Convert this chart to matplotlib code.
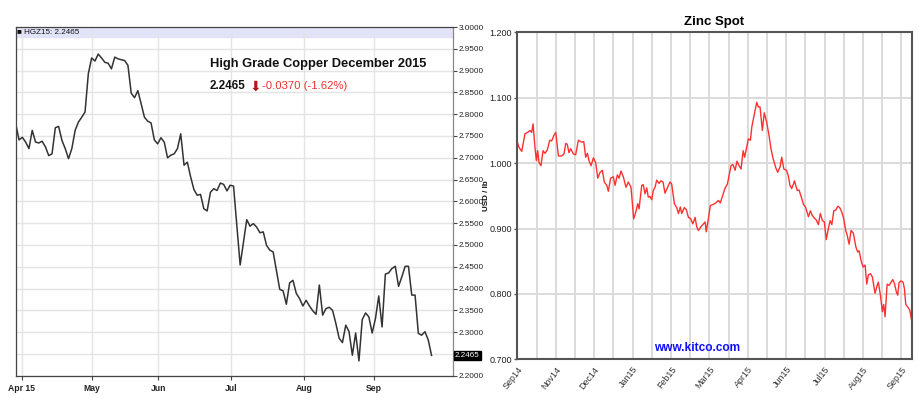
import matplotlib
matplotlib.use("Agg")
import matplotlib.pyplot as plt

SANS = ["Liberation Sans", "DejaVu Sans"]

# High Grade Copper Dec 2015 (trading day index, price)
copper_day = [0, 1, 2, 3, 4, 5, 6, 7, 8, 9, 10, 11, 12, 13, 14, 15, 16, 17, 18, 19,
              20, 21, 22, 23, 24, 25, 26, 27, 28, 29, 30, 31, 33, 34, 35, 36, 37, 38, 39, 40,
              41, 42, 43, 44, 45, 46, 47, 48, 49, 50, 51, 52, 53, 54, 55, 56, 57, 58, 59, 60,
              61, 62, 63, 64, 65, 66, 68, 70, 71, 72, 73, 74, 75, 76, 77, 78, 80, 81, 82, 83,
              84, 85, 86, 87, 88, 89, 90, 91, 92, 93, 94, 95, 96, 97, 98, 99, 100, 101, 102, 103,
              104, 105, 106, 107, 108, 109, 110, 111, 112, 113, 114, 115, 116, 117, 118, 119, 120, 121, 122, 123,
              124, 125, 126]
copper_price = [2.778, 2.741, 2.747, 2.736, 2.721, 2.763, 2.736, 2.734, 2.738, 2.725,
                2.705, 2.709, 2.769, 2.772, 2.740, 2.721, 2.698, 2.721, 2.763, 2.782,
                2.793, 2.805, 2.893, 2.929, 2.922, 2.938, 2.929, 2.919, 2.917, 2.904,
                2.931, 2.927, 2.923, 2.912, 2.848, 2.838, 2.854, 2.824, 2.793, 2.784,
                2.780, 2.741, 2.732, 2.746, 2.736, 2.700, 2.706, 2.709, 2.721, 2.755,
                2.683, 2.690, 2.656, 2.627, 2.614, 2.616, 2.583, 2.578, 2.621, 2.629,
                2.625, 2.642, 2.639, 2.624, 2.637, 2.635, 2.454, 2.558, 2.543, 2.549,
                2.541, 2.528, 2.530, 2.499, 2.488, 2.484, 2.398, 2.395, 2.364, 2.413,
                2.419, 2.389, 2.377, 2.360, 2.373, 2.360, 2.349, 2.341, 2.408, 2.339,
                2.354, 2.357, 2.350, 2.320, 2.286, 2.276, 2.316, 2.301, 2.247, 2.298,
                2.234, 2.329, 2.344, 2.335, 2.298, 2.331, 2.383, 2.312, 2.433, 2.436,
                2.446, 2.451, 2.405, 2.427, 2.451, 2.451, 2.385, 2.385, 2.297, 2.293,
                2.301, 2.282, 2.2465]
copper_tick_pos = [1.8, 23.0, 43.2, 65.2, 87.5, 108.5]
copper_tick_lab = ["Apr 15", "May", "Jun", "Jul", "Aug", "Sep"]
copper_yticks = [2.20, 2.25, 2.30, 2.35, 2.40, 2.45, 2.50, 2.55, 2.60, 2.65,
                 2.70, 2.75, 2.80, 2.85, 2.90, 2.95, 3.00]

# Zinc Spot (period index, USD/lb)
zinc_t = [0.00, 0.09, 0.23, 0.40, 0.54, 0.66, 0.75, 0.82, 0.92, 0.99, 1.06, 1.13, 1.23, 1.34, 1.44,
          1.56, 1.69, 1.79, 1.90, 2.00, 2.14, 2.31, 2.43, 2.52, 2.60, 2.69, 2.78, 2.92, 3.04, 3.18,
          3.35, 3.46, 3.56, 3.65, 3.73, 3.84, 3.96, 4.08, 4.19, 4.31, 4.43, 4.53, 4.66, 4.74, 4.86,
          5.00, 5.09, 5.21, 5.30, 5.40, 5.52, 5.66, 5.78, 5.92, 6.06, 6.17, 6.27, 6.34, 6.48, 6.56,
          6.65, 6.74, 6.82, 6.91, 7.00, 7.08, 7.17, 7.26, 7.38, 7.48, 7.59, 7.69, 7.83, 7.95, 8.04,
          8.18, 8.30, 8.39, 8.49, 8.56, 8.70, 8.80, 8.91, 9.03, 9.14, 9.26, 9.34, 9.43, 9.57, 9.69,
          9.78, 9.84, 9.95, 10.05, 10.21, 10.33, 10.47, 10.57, 10.68, 10.82, 10.94, 11.03, 11.13, 11.23, 11.34,
          11.44, 11.55, 11.65, 11.76, 11.84, 11.93, 12.03, 12.14, 12.21, 12.29, 12.38, 12.47, 12.55, 12.64, 12.76,
          12.86, 12.99, 13.11, 13.21, 13.33, 13.46, 13.56, 13.68, 13.77, 13.88, 14.02, 14.11, 14.20, 14.29, 14.38,
          14.43, 14.50, 14.58, 14.67, 14.78, 14.90, 15.02, 15.16, 15.26, 15.36, 15.47, 15.57, 15.68, 15.78, 15.89,
          15.99, 16.09, 16.20, 16.29, 16.38, 16.48, 16.58, 16.69, 16.79, 16.90, 17.00, 17.10, 17.17, 17.28, 17.38,
          17.50, 17.63, 17.73, 17.80, 17.90, 18.01, 18.11, 18.20, 18.28, 18.39, 18.49, 18.63, 18.73, 18.80, 18.91,
          19.01, 19.08, 19.15, 19.26, 19.36, 19.47, 19.55, 19.64, 19.74, 19.81, 19.88, 19.98, 20.09, 20.16, 20.23,
          20.33, 20.44, 20.54]
zinc_price = [1.032, 1.024, 1.018, 1.045, 1.047, 1.050, 1.047, 1.060, 1.024, 1.004, 1.019, 1.001, 0.996, 1.019, 1.015,
              1.020, 1.035, 1.034, 1.042, 1.047, 1.011, 1.011, 1.014, 1.030, 1.029, 1.016, 1.022, 1.014, 1.013, 1.035,
              1.032, 1.033, 1.009, 1.015, 1.004, 0.996, 1.008, 1.001, 0.977, 0.986, 0.989, 0.971, 0.966, 0.957, 0.977,
              0.979, 0.966, 0.982, 0.977, 0.988, 0.979, 0.963, 0.971, 0.963, 0.915, 0.925, 0.938, 0.930, 0.966, 0.967,
              0.953, 0.962, 0.948, 0.949, 0.944, 0.958, 0.963, 0.974, 0.969, 0.973, 0.971, 0.954, 0.963, 0.971, 0.968,
              0.938, 0.932, 0.923, 0.933, 0.923, 0.932, 0.929, 0.917, 0.915, 0.907, 0.917, 0.903, 0.897, 0.903, 0.907,
              0.910, 0.895, 0.915, 0.935, 0.937, 0.939, 0.943, 0.939, 0.949, 0.962, 0.968, 0.981, 0.996, 0.998, 0.989,
              1.003, 0.996, 0.991, 1.019, 1.009, 1.022, 1.037, 1.035, 1.055, 1.067, 1.080, 1.093, 1.086, 1.086, 1.050,
              1.077, 1.062, 1.042, 1.022, 1.006, 0.993, 0.986, 0.994, 1.009, 0.991, 0.989, 0.981, 0.966, 0.961, 0.968,
              0.973, 0.966, 0.958, 0.959, 0.949, 0.937, 0.932, 0.918, 0.927, 0.920, 0.916, 0.913, 0.906, 0.923, 0.912,
              0.910, 0.883, 0.900, 0.912, 0.906, 0.927, 0.928, 0.934, 0.932, 0.925, 0.915, 0.897, 0.891, 0.876, 0.897,
              0.893, 0.872, 0.864, 0.866, 0.851, 0.841, 0.844, 0.815, 0.829, 0.831, 0.826, 0.801, 0.812, 0.818, 0.798,
              0.773, 0.784, 0.765, 0.815, 0.813, 0.818, 0.822, 0.816, 0.803, 0.798, 0.817, 0.820, 0.818, 0.808, 0.784,
              0.780, 0.775, 0.759]
zinc_tick_lab = ["Sep14", "Nov14", "Dec14", "Jan15", "Feb15", "Mar15",
                 "Apr15", "Jun15", "Jul15", "Aug15", "Sep15"]
zinc_yticks = [0.7, 0.8, 0.9, 1.0, 1.1, 1.2]

fig = plt.figure(figsize=(9.2, 3.98), dpi=100)

# ---------------- left: copper ----------------
ax1 = fig.add_axes([0.0171, 0.0560, 0.4753, 0.8761])
ax1.plot(copper_day, copper_price, color="#333333", lw=1.1)
ax1.set_xlim(0, 132.5)
ax1.set_ylim(2.2, 3.0)
ax1.axhspan(2.976, 3.0, color="#e2e2f8", zorder=0)
ax1.yaxis.tick_right()
ax1.set_yticks(copper_yticks)
ax1.set_yticklabels(["" if abs(v - 2.25) < 1e-6 else "%.4f" % v for v in copper_yticks],
                    fontsize=5.9, family=SANS, color="#222222")
ax1.set_xticks(copper_tick_pos)
ax1.set_xticklabels(copper_tick_lab, fontsize=6.2, family=SANS, fontweight="bold", color="#222222")
ax1.tick_params(axis="y", length=3, width=0.8, pad=1, colors="#444444", labelcolor="#222222")
ax1.tick_params(axis="x", length=3, width=0.8, pad=3, colors="#444444", labelcolor="#222222")
ax1.grid(True, color="#e4e4e4", lw=1.0)
ax1.set_axisbelow(True)
for s in ax1.spines.values():
    s.set_color("#444444")
    s.set_linewidth(0.9)
ax1.spines["right"].set_color("#888888")

ax1.text(0.004, 0.985, "\u25a0 HGZ15: 2.2465", transform=ax1.transAxes, fontsize=5.8,
         family=SANS, va="center", ha="left", color="#111111")
ax1.text(0.444, 0.895, "High Grade Copper December 2015", transform=ax1.transAxes,
         fontsize=9.3, family=SANS, fontweight="bold", color="#111111", va="center")
ax1.text(0.444, 0.83, "2.2465", transform=ax1.transAxes, fontsize=8.4, family=SANS,
         fontweight="bold", color="#111111", va="center")
ax1.text(0.535, 0.83, "\u2b07", transform=ax1.transAxes, fontsize=10, family="DejaVu Sans",
         color="#b01818", va="center")
ax1.text(0.563, 0.83, "-0.0370 (-1.62%)", transform=ax1.transAxes, fontsize=8.1,
         family=SANS, color="#e83030", va="center")
ax1.text(1.004, copper_price[-1], "2.2465", transform=ax1.get_yaxis_transform(),
         fontsize=5.8, family=SANS, color="white", va="center", ha="left",
         bbox=dict(facecolor="black", edgecolor="black", pad=0.8))

# ---------------- right: zinc ----------------
ax2 = fig.add_axes([0.5623, 0.0972, 0.4287, 0.8216])
ax2.plot(zinc_t, zinc_price, color="#ff3030", lw=1.0)
ax2.set_xlim(0, 20.54)
ax2.set_ylim(0.7, 1.2)
ax2.set_xticks(range(0, 21))
ax2.set_xticklabels([zinc_tick_lab[i // 2] if i % 2 == 0 else "" for i in range(21)],
                    rotation=52, ha="right", va="top", rotation_mode="anchor",
                    fontsize=6.4, family=SANS, color="#333333")
ax2.set_yticks(zinc_yticks)
ax2.set_yticklabels(["%.3f" % v for v in zinc_yticks], fontsize=6.5, family=SANS, color="#222222")
ax2.tick_params(axis="x", length=0, pad=4)
ax2.tick_params(axis="y", length=2, width=1, pad=2, colors="#555555", labelcolor="#222222")
ax2.grid(True, color="#dadada", lw=1.4)
ax2.set_axisbelow(True)
for s in ax2.spines.values():
    s.set_color("#555555")
    s.set_linewidth(1.5)
ax2.text(-0.077, 0.5, "USD / lb", transform=ax2.transAxes, rotation=90, fontsize=5.8,
         family=SANS, fontweight="bold", ha="center", va="center", color="#111111")
ax2.set_title("Zinc Spot", fontsize=9.5, family=SANS, fontweight="bold", pad=5)
ax2.text(0.455, 0.035, "www.kitco.com", transform=ax2.transAxes, fontsize=8.6,
         family=SANS, fontweight="bold", color="#1010ff", ha="center", va="center")

fig.savefig("out.png", dpi=100)
